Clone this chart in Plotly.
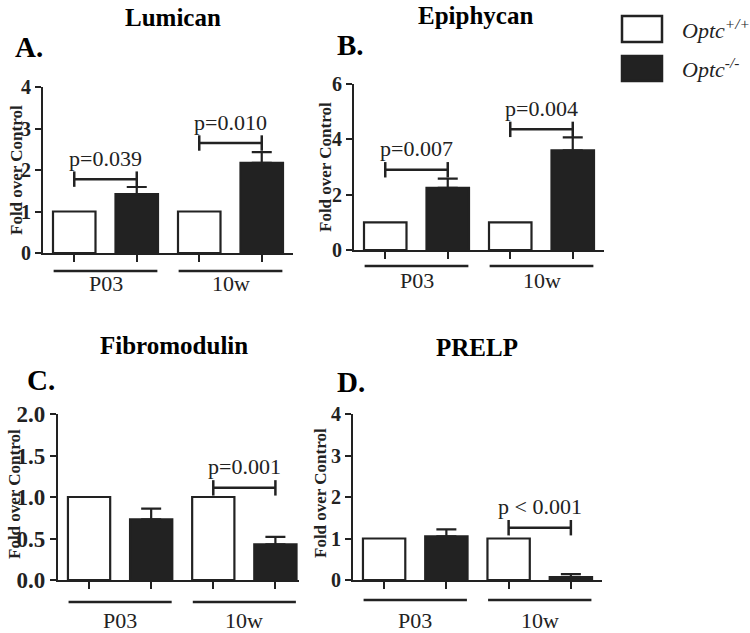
import plotly.graph_objects as go

# ---------------- data ----------------
groups = ["P03", "10w"]
legend_labels = ["Optc<sup>+/+</sup>", "Optc<sup>-/-</sup>"]

titles = ["Lumican", "Epiphycan", "Fibromodulin", "PRELP"]
letters = ["A.", "B.", "C.", "D."]

wt_values = [[1.0, 1.0], [1.0, 1.0], [1.0, 1.0], [1.0, 1.0]]
ko_values = [[1.42, 2.17], [2.25, 3.60], [0.73, 0.43], [1.05, 0.07]]
ko_errors = [[0.17, 0.26], [0.33, 0.47], [0.13, 0.09], [0.17, 0.07]]

p_labels = [["p=0.039", "p=0.010"], ["p=0.007", "p=0.004"],
            [None, "p=0.001"], [None, "p < 0.001"]]
p_heights = [[1.78, 2.65], [2.90, 4.36], [None, 1.11], [None, 1.26]]

y_max = [4, 6, 2.0, 4]
y_dtick = [1, 2, 0.5, 1]
y_fmt = ["d", "d", ".1f", "d"]

# ---------------- layout geometry (pixels) ----------------
W, H = 750, 633
FONT = "'Times New Roman', 'Liberation Serif', 'DejaVu Serif', serif"
INK = "#222222"

geo = [
    dict(x=(43, 293), y=(87, 253), xr=3.5, gl=18, lab=30, title=(173, 17), letter=(13, 47), ytitle=(17, 170), tick=20),
    dict(x=(354, 604), y=(84, 250), xr=3.5, gl=16, lab=30, title=(475, 15), letter=(335, 45), ytitle=(325, 167), tick=20),
    dict(x=(58, 299), y=(414, 580), xr=3.38, gl=22, lab=40, title=(174, 345), letter=(25, 380), ytitle=(14, 494), tick=23),
    dict(x=(353, 602), y=(414, 580), xr=3.5, gl=20, lab=40, title=(477, 347), letter=(335, 382), ytitle=(320, 493), tick=20),
]


def px(xp):
    return xp / W


def py(yp):
    return 1 - yp / H


fig = go.Figure()
shapes = []
annotations = []

for k in range(4):
    g = geo[k]
    xa = "x" if k == 0 else f"x{k+1}"
    ya = "y" if k == 0 else f"y{k+1}"
    xpos_wt = [2 * i for i in range(len(groups))]
    xpos_ko = [2 * i + 1 for i in range(len(groups))]

    fig.add_trace(go.Bar(
        x=xpos_wt, y=wt_values[k], xaxis=xa, yaxis=ya, width=0.68,
        marker=dict(color="white", line=dict(color=INK, width=2.2)),
        showlegend=False, hoverinfo="skip"))
    fig.add_trace(go.Bar(
        x=xpos_ko, y=ko_values[k], xaxis=xa, yaxis=ya, width=0.68,
        marker=dict(color=INK, line=dict(color=INK, width=2.2)),
        error_y=dict(type="data", array=ko_errors[k], arrayminus=[0] * len(groups),
                     symmetric=False, color=INK, thickness=2.2, width=10),
        showlegend=False, hoverinfo="skip"))

    for i in range(len(groups)):
        if p_labels[k][i] is None:
            continue
        h = p_heights[k][i]
        fig.add_trace(go.Scatter(
            x=[xpos_wt[i], xpos_ko[i]], y=[h, h], xaxis=xa, yaxis=ya,
            mode="lines+markers",
            line=dict(color=INK, width=2.5),
            marker=dict(symbol="line-ns", size=11, line=dict(color=INK, width=2.5)),
            showlegend=False, hoverinfo="skip"))
        annotations.append(dict(
            x=(xpos_wt[i] + xpos_ko[i]) / 2, y=h, xref=xa, yref=ya,
            text=p_labels[k][i], showarrow=False, yanchor="middle", yshift=21,
            font=dict(family=FONT, size=22, color=INK)))

    for i, gname in enumerate(groups):
        shapes.append(dict(
            type="line", xref=xa, yref="paper",
            x0=2 * i - 0.33, x1=2 * i + 1.33,
            y0=py(g["y"][1] + g["gl"]), y1=py(g["y"][1] + g["gl"]),
            line=dict(color=INK, width=2.5)))
        annotations.append(dict(
            x=2 * i + 0.5, y=py(g["y"][1] + g["lab"]), xref=xa, yref="paper",
            text=gname, showarrow=False, yanchor="middle",
            font=dict(family=FONT, size=22, color=INK)))

    annotations.append(dict(
        x=px(g["title"][0]), y=py(g["title"][1]), xref="paper", yref="paper",
        text=f"<b>{titles[k]}</b>", showarrow=False, xanchor="center", yanchor="middle",
        font=dict(family=FONT, size=25, color="black")))
    annotations.append(dict(
        x=px(g["letter"][0]), y=py(g["letter"][1]), xref="paper", yref="paper",
        text=f"<b>{letters[k]}</b>", showarrow=False, xanchor="left", yanchor="middle",
        font=dict(family=FONT, size=29, color="black")))
    annotations.append(dict(
        x=px(g["ytitle"][0]), y=py(g["ytitle"][1]), xref="paper", yref="paper",
        text="<b>Fold over Control</b>", showarrow=False, textangle=-90,
        xanchor="center", yanchor="middle",
        font=dict(family=FONT, size=17, color=INK)))

    axis_x = dict(
        domain=[px(g["x"][0]), px(g["x"][1])], range=[-0.5, g["xr"]],
        showline=True, linecolor=INK, linewidth=2.2, showgrid=False, zeroline=False,
        tickmode="array", tickvals=xpos_wt + xpos_ko, showticklabels=False,
        ticks="outside", ticklen=7, tickwidth=2, tickcolor=INK,
        anchor=ya, fixedrange=True, automargin=False)
    axis_y = dict(
        domain=[py(g["y"][1]), py(g["y"][0])], range=[0, y_max[k]],
        showline=True, linecolor=INK, linewidth=2.2, showgrid=False, zeroline=False,
        dtick=y_dtick[k], tick0=0, tickformat=y_fmt[k],
        ticks="outside", ticklen=6, tickwidth=2, tickcolor=INK,
        tickfont=dict(family=FONT, size=g["tick"], color=INK, weight="bold"),
        anchor=xa, fixedrange=True, automargin=False)
    fig.layout[("xaxis" if k == 0 else f"xaxis{k+1}")] = axis_x
    fig.layout[("yaxis" if k == 0 else f"yaxis{k+1}")] = axis_y

legend_boxes = [(622, 16, 662, 42, "white"), (622, 56, 662, 81, INK)]
for (x0, y0, x1, y1, col), lab in zip(legend_boxes, legend_labels):
    shapes.append(dict(type="rect", xref="paper", yref="paper",
                       x0=px(x0), x1=px(x1), y0=py(y1), y1=py(y0),
                       fillcolor=col, line=dict(color=INK, width=2.5)))
    annotations.append(dict(
        x=px(680), y=py((y0 + y1) / 2), xref="paper", yref="paper",
        text=f"<i>{lab}</i>", showarrow=False, xanchor="left", yanchor="middle",
        font=dict(family=FONT, size=22, color=INK)))

fig.update_layout(
    width=W, height=H, margin=dict(l=0, r=0, t=0, b=0, pad=0, autoexpand=False),
    paper_bgcolor="white", plot_bgcolor="white",
    barmode="overlay", shapes=shapes, annotations=annotations,
    showlegend=False)

post = (
    "var gd=document.getElementById('{plot_id}');"
    "var de=document.documentElement, b=document.body;"
    "de.style.margin='0';de.style.padding='0';de.style.height='633px';de.style.overflow='hidden';"
    "b.style.margin='0';b.style.padding='0';b.style.height='633px';b.style.overflow='hidden';"
    "b.insertBefore(gd, b.firstChild);"
    "gd.style.position='absolute';gd.style.left='0px';gd.style.top='0px';"
    "Array.from(b.children).forEach(function(n){if(n!==gd && n.tagName!=='SCRIPT' && n.id!=='js-plotly-tester'){n.style.display='none';}});"
)

fig.write_html("out.html", config={"displayModeBar": False}, post_script=post)
